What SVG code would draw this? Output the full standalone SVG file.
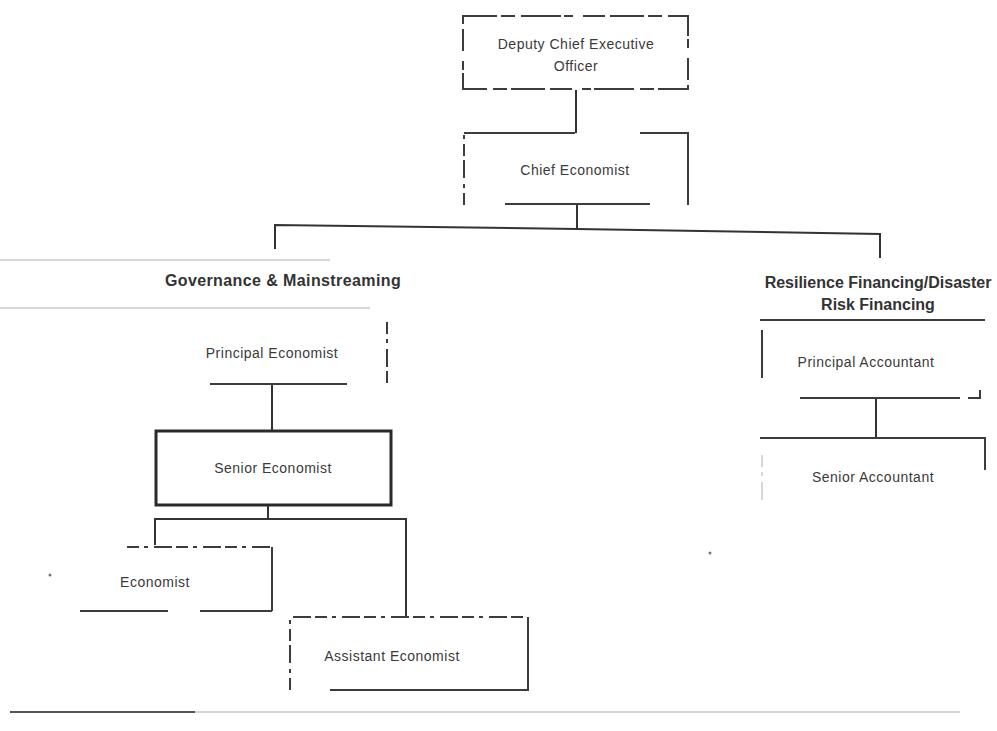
<svg xmlns="http://www.w3.org/2000/svg" width="997" height="731" viewBox="0 0 997 731">
<style>
.t{font-family:"Liberation Sans",Arial,sans-serif;font-size:14px;fill:#3a3a3a;letter-spacing:0.5px;text-anchor:middle}
.b{font-family:"Liberation Sans",Arial,sans-serif;font-size:16px;font-weight:bold;fill:#333;letter-spacing:0.4px;text-anchor:middle}
.e{fill:none;stroke:#3c3c3c;stroke-width:2}
.d1{stroke-dasharray:34 4 14 6 40 3 9 10 22 5}
.d2{stroke-dasharray:12 5 4 6 18 4}
.faint{fill:none;stroke:#c9c9c9;stroke-width:1.5}
.c{fill:none;stroke:#333;stroke-width:2}
</style>
<rect width="997" height="731" fill="#ffffff"/>
<g id="connectors">
<path class="c" d="M576,90 V133"/>
<path class="c" d="M577,205 V228"/>
<path class="c" d="M275,249 V225 L577,229 L880,234 V258"/>
<path class="c" d="M272,384 V431"/>
<path class="c" d="M268,505 V519"/>
<path class="c" d="M155,545 V519 H406 V617"/>
<path class="c" d="M876,398 V438"/>
</g>
<g id="deputy-ceo">
<rect class="e d1" x="463" y="16" width="225" height="73"/>
<text class="t" x="576" y="49">Deputy Chief Executive</text>
<text class="t" x="576" y="71">Officer</text>
</g>
<g id="chief-economist">
<path class="e d2" d="M464,205 V133"/>
<path class="e" d="M464,133 H575"/>
<path class="e" d="M640,133 H688 V205"/>
<path class="e" d="M505,204 H650"/>
<text class="t" x="575" y="175">Chief Economist</text>
</g>
<g id="governance">
<path class="faint" d="M0,260 H330"/>
<path class="faint" d="M0,308 H370"/>
<text class="b" x="283" y="286">Governance &amp; Mainstreaming</text>
</g>
<g id="principal-economist">
<path class="e d2" d="M387,322 V385"/>
<path class="e" d="M210,384 H347"/>
<text class="t" x="272" y="358">Principal Economist</text>
</g>
<g id="senior-economist">
<rect x="156" y="431" width="235" height="74" fill="none" stroke="#2a2a2a" stroke-width="3"/>
<text class="t" x="273" y="473">Senior Economist</text>
</g>
<g id="economist">
<path class="e d2" d="M127,547 H272"/>
<path class="e" d="M272,547 V611"/>
<path class="e" d="M80,611 H168 M200,611 H272"/>
<text class="t" x="155" y="587">Economist</text>
</g>
<g id="assistant-economist">
<path class="e d2" d="M290,690 V617 H528"/>
<path class="e" d="M528,617 V690 H330"/>
<text class="t" x="392" y="661">Assistant Economist</text>
</g>
<g id="resilience">
<text class="b" x="878" y="288" style="letter-spacing:0">Resilience Financing/Disaster</text>
<text class="b" x="878" y="310" style="letter-spacing:0">Risk Financing</text>
</g>
<g id="principal-accountant">
<path class="e" d="M760,320 H985"/>
<path class="e" d="M762,330 V378"/>
<path class="e" d="M800,398 H960 M968,398 H980 V390"/>
<text class="t" x="866" y="367">Principal Accountant</text>
</g>
<g id="senior-accountant">
<path class="e" d="M760,438 H985 V470"/>
<path class="faint d2" d="M762,455 V500"/>
<text class="t" x="873" y="482">Senior Accountant</text>
</g>
<g id="page-rule">
<path d="M10,712 H195" stroke="#555" stroke-width="2"/>
<path class="faint" d="M195,712 H960"/>
<circle cx="50" cy="575" r="1.5" fill="#777"/>
<circle cx="710" cy="553" r="1.5" fill="#777"/>
</g>
</svg>
